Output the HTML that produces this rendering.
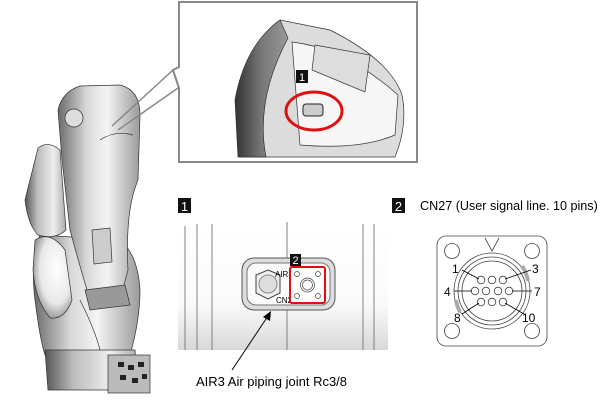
<!DOCTYPE html>
<html><head><meta charset="utf-8"><style>
html,body{margin:0;padding:0;background:#fff;}
svg{display:block;font-family:"Liberation Sans",Arial,sans-serif;}
</style></head><body>
<svg width="600" height="417" viewBox="0 0 600 417" xmlns="http://www.w3.org/2000/svg">
<defs>
<linearGradient id="g1" x1="0" x2="1"><stop offset="0" stop-color="#6a6a6a"/><stop offset="0.35" stop-color="#d8d8d8"/><stop offset="0.6" stop-color="#f4f4f4"/><stop offset="1" stop-color="#9a9a9a"/></linearGradient>
<linearGradient id="g2" x1="0" x2="1"><stop offset="0" stop-color="#555"/><stop offset="0.3" stop-color="#bbb"/><stop offset="0.7" stop-color="#eee"/><stop offset="1" stop-color="#aaa"/></linearGradient>
<linearGradient id="g3" x1="0" y1="0" x2="0" y2="1"><stop offset="0" stop-color="#fff"/><stop offset="0.65" stop-color="#fafafa"/><stop offset="1" stop-color="#d8d8d8"/></linearGradient>
<radialGradient id="g4" cx="0.6" cy="0.4" r="0.7"><stop offset="0" stop-color="#fff"/><stop offset="0.6" stop-color="#e8e8e8"/><stop offset="1" stop-color="#777"/></radialGradient>
<linearGradient id="g5" x1="0" x2="1"><stop offset="0" stop-color="#333"/><stop offset="0.5" stop-color="#777"/><stop offset="1" stop-color="#999"/></linearGradient>
</defs>

<!-- Robot -->
<g stroke="#333" stroke-width="0.7">
<path d="M40 235 Q30 260 35 300 Q40 340 45 355 L130 355 Q140 320 140 290 Q138 255 120 240 Z" fill="url(#g1)"/>
<path d="M45 350 L135 350 L138 390 L48 390 Z" fill="url(#g2)"/>
<rect x="108" y="355" width="42" height="38" fill="#bbb"/>
<g fill="#222" stroke="none"><rect x="118" y="362" width="6" height="5"/><rect x="128" y="365" width="6" height="5"/><rect x="138" y="362" width="6" height="5"/><rect x="120" y="375" width="6" height="5"/><rect x="132" y="378" width="6" height="5"/><rect x="142" y="374" width="5" height="5"/></g>
<path d="M58 110 Q62 92 80 86 L120 85 Q140 90 140 115 L138 180 Q125 210 128 270 L120 300 L90 300 Q78 260 70 230 L62 160 Z" fill="url(#g1)"/>
<path d="M38 148 Q48 140 60 150 L66 230 Q55 240 38 235 Q28 225 25 200 Z" fill="url(#g2)"/>
<path d="M35 240 Q50 230 65 250 L72 300 Q65 320 50 318 Q35 300 33 270 Z" fill="url(#g4)"/>
<path d="M92 230 L110 228 L112 262 L94 264 Z" fill="#ccc"/>
<path d="M85 290 L125 285 L130 305 L90 310 Z" fill="#999"/>
<circle cx="74" cy="118" r="9" fill="#ddd"/>
<path d="M100 140 Q115 130 133 135" fill="none"/>
<path d="M80 300 Q95 330 100 350" fill="none"/>
</g>

<!-- callout pointer -->
<g stroke="#888" stroke-width="1.5" fill="none">
<line x1="173" y1="70" x2="112" y2="126"/>
<line x1="178" y1="88" x2="118" y2="130"/>
</g>
<!-- callout box -->
<path d="M179 2 L417 2 L417 162 L179 162 L179 88 L173 70 L179 67 Z" fill="#fff" stroke="#888" stroke-width="2"/>
<!-- zoomed part -->
<g stroke="#333" stroke-width="0.7">
<path d="M280 20 Q250 40 238 100 L240 157 L395 157 Q408 125 402 95 Q390 60 330 30 Z" fill="#dcdcdc"/>
<path d="M280 20 Q245 45 235 100 L238 157 L266 157 Q255 100 288 38 Z" fill="url(#g5)"/>
<path d="M292 42 Q345 48 398 95 L395 135 Q360 150 300 145 Z" fill="#f6f6f6"/>
<path d="M315 45 L370 55 L365 92 L312 70 Z" fill="#ddd"/>
</g>
<rect x="296" y="70" width="12" height="13" fill="#111"/>
<text x="302" y="81" font-size="11" fill="#fff" text-anchor="middle">1</text>
<ellipse cx="314" cy="111" rx="28" ry="19" fill="none" stroke="#e01010" stroke-width="3"/>
<rect x="303" y="104" width="20" height="12" rx="3" fill="#ccc" stroke="#222"/>

<!-- Panel 1 -->
<rect x="178" y="198" width="13" height="15" fill="#111"/>
<text x="184.5" y="211" font-size="13" fill="#fff" text-anchor="middle">1</text>
<rect x="178" y="223" width="210" height="127" fill="url(#g3)"/>
<g stroke="#666" stroke-width="0.8">
<line x1="185" y1="226" x2="185" y2="350"/><line x1="197" y1="224" x2="197" y2="350"/><line x1="212" y1="224" x2="212" y2="350"/>
<line x1="287" y1="222" x2="287" y2="350"/><line x1="363" y1="224" x2="363" y2="350"/><line x1="374" y1="224" x2="374" y2="350"/>
</g>
<rect x="242" y="258" width="93" height="52" rx="12" fill="#ddd" stroke="#555"/>
<rect x="247" y="263" width="83" height="42" rx="9" fill="#fafafa" stroke="#777"/>
<polygon points="268,270 280,275 280,293 268,299 256,293 256,275" fill="#eee" stroke="#444"/>
<circle cx="268" cy="284" r="9" fill="#ddd" stroke="#888"/>
<text x="275" y="277" font-size="8">AIR3</text>
<text x="276" y="303" font-size="8">CN27</text>
<rect x="290" y="267" width="35" height="36" rx="2" fill="#fff" stroke="#e01010" stroke-width="2"/>
<g fill="none" stroke="#444" stroke-width="0.7"><circle cx="297" cy="274" r="2.5"/><circle cx="318" cy="274" r="2.5"/><circle cx="297" cy="296" r="2.5"/><circle cx="318" cy="296" r="2.5"/><circle cx="307.5" cy="285" r="7"/><circle cx="307.5" cy="285" r="5"/></g>
<rect x="290" y="254" width="11" height="12" fill="#111"/>
<text x="295.5" y="264" font-size="11" fill="#fff" text-anchor="middle">2</text>
<line x1="232" y1="370" x2="268" y2="316" stroke="#000" stroke-width="1"/>
<polygon points="271,311 270,321 263,317" fill="#000"/>
<text x="196" y="386" font-size="13">AIR3 Air piping joint Rc3/8</text>

<!-- Panel 2 -->
<rect x="392" y="198" width="13" height="15" fill="#111"/>
<text x="398.5" y="211" font-size="13" fill="#fff" text-anchor="middle">2</text>
<text x="420" y="210" font-size="12.6">CN27 (User signal line. 10 pins)</text>
<g stroke="#444" stroke-width="0.8" fill="none">
<rect x="437" y="236" width="110" height="110" rx="9" fill="#fff"/>
<circle cx="452" cy="251" r="7.5"/><circle cx="532" cy="251" r="7.5"/><circle cx="452" cy="331" r="7.5"/><circle cx="532" cy="331" r="7.5"/>
<polyline points="485,238 492,251 499,238"/>
<circle cx="492" cy="291" r="38"/>
<circle cx="492" cy="291" r="34"/>
<circle cx="492" cy="291" r="30"/>
</g>
<path d="M522 266 A38 38 0 0 1 528 281" stroke="#aaa" stroke-width="4" fill="none"/>
<path d="M456 300 A38 38 0 0 0 460 312" stroke="#aaa" stroke-width="4" fill="none"/>
<g stroke="#444" stroke-width="0.8" fill="#fff">
<circle cx="481" cy="280" r="3.8"/><circle cx="492" cy="280" r="3.8"/><circle cx="503" cy="280" r="3.8"/>
<circle cx="475" cy="291" r="3.8"/><circle cx="486" cy="291" r="3.8"/><circle cx="498" cy="291" r="3.8"/><circle cx="509" cy="291" r="3.8"/>
<circle cx="481" cy="302" r="3.8"/><circle cx="492" cy="302" r="3.8"/><circle cx="503" cy="302" r="3.8"/>
</g>
<g stroke="#000" stroke-width="0.8">
<line x1="462" y1="270" x2="479" y2="279"/><line x1="531" y1="270" x2="505" y2="279"/>
<line x1="454" y1="291" x2="472" y2="291"/><line x1="532" y1="291" x2="512" y2="291"/>
<line x1="462" y1="314" x2="479" y2="303"/><line x1="524" y1="314" x2="505" y2="303"/>
</g>
<g font-size="12">
<text x="452" y="273">1</text><text x="532" y="273">3</text>
<text x="444" y="296">4</text><text x="534" y="296">7</text>
<text x="454" y="322">8</text><text x="522" y="322">10</text>
</g>
</svg>
</body></html>
